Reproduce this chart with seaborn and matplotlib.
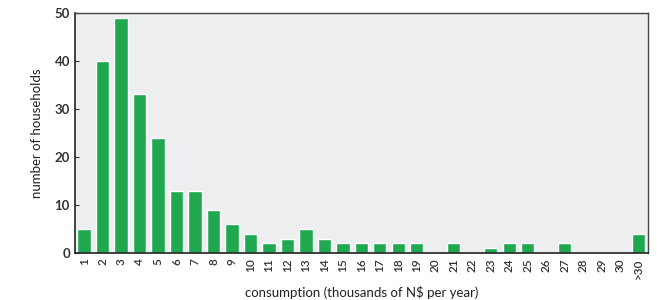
import pandas as pd
import seaborn as sns
import matplotlib.pyplot as plt

# consumption classes (thousands of N$ per year) and household counts
categories = [str(i) for i in range(1, 31)] + ['>30']
households = [5, 40, 49, 33, 24, 13, 13, 9, 6, 4,
              2, 3, 5, 3, 2, 2, 2, 2, 2, 0,
              2, 0, 1, 2, 2, 0, 2, 0, 0, 0,
              4]

df = pd.DataFrame({'consumption': categories, 'households': households})

sns.set_style('white')
plt.rcParams['font.family'] = ['Lato', 'DejaVu Sans']

fig = plt.figure(figsize=(6.57, 3.0), dpi=100)
ax = fig.add_axes([0.114, 0.157, 0.872, 0.80])
ax.set_facecolor('#eceef0')

sns.barplot(data=df, x='consumption', y='households', color='#1fa84f',
            saturation=1, width=0.72, ax=ax)

ax.set_ylim(0, 50)
ax.set_xlim(-0.5, 30.5)
ax.set_yticks([0, 10, 20, 30, 40, 50])
ax.tick_params(axis='y', labelsize=9.5, colors='#333333', length=3,
               direction='in', left=True)
ax.tick_params(axis='x', labelsize=8.5, colors='#333333', length=0,
               rotation=90, pad=4)
for lbl in ax.get_yticklabels():
    lbl.set_fontweight('bold')
for lbl in ax.get_xticklabels():
    lbl.set_fontweight('semibold')

ax.set_xlabel('consumption (thousands of N$ per year)', fontsize=9.5,
              color='#222222', labelpad=5)
ax.set_ylabel('number of households', fontsize=9.5, color='#222222',
              labelpad=8)

for side in ['left', 'bottom']:
    ax.spines[side].set_color('#222222')
    ax.spines[side].set_linewidth(1.2)
for side in ['top', 'right']:
    ax.spines[side].set_color('#444444')
    ax.spines[side].set_linewidth(1.0)

fig.savefig('out.png', dpi=100, facecolor='white')
